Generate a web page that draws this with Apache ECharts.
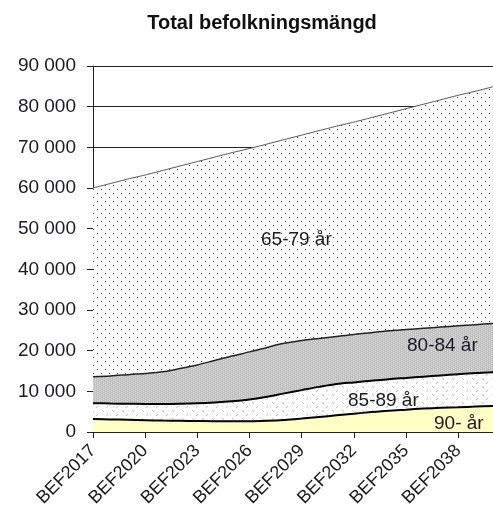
<!DOCTYPE html>
<html>
<head>
<meta charset="utf-8">
<script src="https://cdn.jsdelivr.net/npm/echarts@6/dist/echarts.min.js"></script>
<style>
  html, body { margin: 0; padding: 0; background: #fff; }
  #chart { width: 493px; height: 517px; }
</style>
</head>
<body>
<div id="chart"></div>
<script>
const years = [
  "BEF2017", "BEF2018", "BEF2019", "BEF2020", "BEF2021", "BEF2022", "BEF2023", "BEF2024",
  "BEF2025", "BEF2026", "BEF2027", "BEF2028", "BEF2029", "BEF2030", "BEF2031", "BEF2032",
  "BEF2033", "BEF2034", "BEF2035", "BEF2036", "BEF2037", "BEF2038", "BEF2039", "BEF2040"
];
const age90 = [3200, 3100, 3000, 2900, 2800, 2750, 2700, 2650, 2650, 2650, 2750, 2950,
  3300, 3700, 4100, 4500, 4900, 5250, 5500, 5750, 5950, 6100, 6250, 6400];
const age85 = [3900, 3900, 3950, 4000, 4100, 4200, 4350, 4600, 4900, 5350, 5900, 6550,
  7000, 7400, 7700, 7700, 7700, 7750, 7800, 7850, 7950, 8100, 8250, 8300];
const age80 = [6500, 6800, 7150, 7500, 7900, 8650, 9450, 10350, 11150, 11700, 12150, 12300,
  12200, 11900, 11700, 11800, 11800, 11900, 11900, 11900, 11900, 11900, 11900, 12000];
const age65 = [46400, 47300, 48100, 48800, 49500, 49800, 50000, 50000, 50000, 50000, 50000, 50100,
  50500, 51100, 51700, 52200, 52900, 53500, 54300, 55100, 55900, 56700, 57400, 58200];
const yTicks = [0, 10000, 20000, 30000, 40000, 50000, 60000, 70000, 80000, 90000];

// small fill patterns
function makePattern(w, h, bg, dots, dotColor) {
  const c = document.createElement("canvas");
  c.width = w;
  c.height = h;
  const ctx = c.getContext("2d");
  ctx.fillStyle = bg;
  ctx.fillRect(0, 0, w, h);
  ctx.fillStyle = dotColor;
  dots.forEach(function (d) {
    ctx.fillRect(d[0], d[1], 1, 1);
  });
  return { image: c, repeat: "repeat" };
}
const dots65 = makePattern(8, 8, "#ffffff", [[1, 1], [5, 5]], "#333333");
const grey80 = makePattern(4, 4, "#c0c0c0", [[1, 0], [1, 2], [3, 1], [3, 3]], "#dcdcdc");
const cross85 = makePattern(10, 8, "#ffffff", [[2, 2], [3, 3], [7, 6], [6, 7]], "#c8c8c8");

const fmt = function (v) {
  return String(v).replace(/\B(?=(\d{3})+(?!\d))/g, " ");
};

const FONT = "Liberation Sans";
const areaLabel = function (text, x, y) {
  return {
    type: "text",
    x: x,
    y: y,
    z: 100,
    style: {
      text: text,
      fontFamily: FONT,
      fontSize: 19,
      fill: "#1a1a22",
      verticalAlign: "top",
    },
  };
};

const chart = echarts.init(document.getElementById("chart"));
chart.setOption({
  animation: false,
  backgroundColor: "#fff",
  title: {
    text: "Total befolkningsmängd",
    left: 257,
    textAlign: "center",
    top: 8,
    textStyle: {
      fontFamily: FONT,
      fontSize: 20,
      fontWeight: "bold",
      color: "#111",
    },
  },
  grid: {
    left: 93,
    top: 66,
    width: 411,
    height: 366,
  },
  xAxis: {
    type: "category",
    data: years,
    boundaryGap: false,
    axisLine: { lineStyle: { color: "#222", width: 1 } },
    axisTick: {
      interval: 2,
      length: 6,
      lineStyle: { color: "#222" },
    },
    axisLabel: {
      interval: 2,
      rotate: 45,
      margin: 16,
      fontFamily: FONT,
      fontSize: 18,
      color: "#1a1a1a",
    },
  },
  yAxis: {
    type: "value",
    min: 0,
    max: 90000,
    interval: 10000,
    axisLine: { show: true, lineStyle: { color: "#222", width: 1 } },
    axisTick: { show: true, length: 6, lineStyle: { color: "#222" } },
    axisLabel: {
      margin: 17,
      fontFamily: FONT,
      fontSize: 19,
      color: "#1a1a22",
      formatter: function (v) {
        return yTicks.indexOf(v) >= 0 ? fmt(v) : "";
      },
    },
    splitLine: { show: true, lineStyle: { color: "#222", width: 1 } },
  },
  series: [
    {
      name: "90- år",
      type: "line",
      stack: "total",
      data: age90,
      smooth: 0.3,
      symbol: "none",
      lineStyle: { color: "#000", width: 2 },
      areaStyle: { color: "#ffffc6", opacity: 1 },
    },
    {
      name: "85-89 år",
      type: "line",
      stack: "total",
      data: age85,
      smooth: 0.3,
      symbol: "none",
      lineStyle: { color: "#000", width: 2 },
      areaStyle: { color: cross85, opacity: 1 },
    },
    {
      name: "80-84 år",
      type: "line",
      stack: "total",
      data: age80,
      smooth: 0.3,
      symbol: "none",
      lineStyle: { color: "#222", width: 1.5 },
      areaStyle: { color: grey80, opacity: 1 },
    },
    {
      name: "65-79 år",
      type: "line",
      stack: "total",
      data: age65,
      smooth: 0.2,
      symbol: "none",
      lineStyle: { color: "#555", width: 1 },
      areaStyle: { color: dots65, opacity: 1 },
    },
  ],
  graphic: [
    areaLabel("65-79 år", 261, 230),
    areaLabel("80-84 år", 407, 336),
    areaLabel("85-89 år", 348, 391),
    areaLabel("90- år", 434, 414),
  ],
});
</script>
</body>
</html>
